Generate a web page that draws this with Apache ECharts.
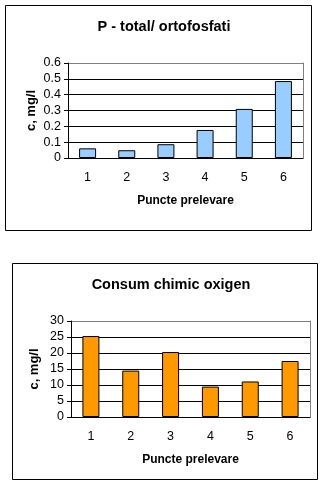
<!DOCTYPE html>
<html><head><meta charset="utf-8">
<script src="https://cdn.jsdelivr.net/npm/echarts@6/dist/echarts.min.js"></script>
<style>html,body{margin:0;padding:0;background:#fff}#c{width:325px;height:485px}</style>
</head><body><div id="c"></div>
<script>
const categories = ['1','2','3','4','5','6'];
const phosphorus = [0.061, 0.049, 0.087, 0.177, 0.31, 0.486];
const oxygenDemand = [25.3, 14.5, 20.3, 9.5, 11.1, 17.5];
const title1 = 'P - total/ ortofosfati';
const title2 = 'Consum chimic oxigen';
const xName = 'Puncte prelevare';
const yName = 'c, mg/l';

const font = 'Liberation Sans, Arial, sans-serif';
const grids = [
  {left: 68, top: 63, width: 235, height: 95},
  {left: 71, top: 321, width: 239, height: 96}
];
function xAxis(i){
  return {gridIndex: i, type: 'category', data: categories,
    axisLine: {lineStyle: {color: '#000', width: 1}},
    axisTick: {length: 4, lineStyle: {color: '#000'}},
    axisLabel: {color: '#000', fontFamily: font, fontSize: 12.5, margin: 13},
    name: xName, nameLocation: 'middle', nameGap: 37, nameMoveOverlap: false,
    nameTextStyle: {color: '#000', fontFamily: font, fontSize: 12, fontWeight: 'bold'}};
}
function yAxis(i, max, interval, fmt){
  return {gridIndex: i, type: 'value', min: 0, max: max, interval: interval,
    axisLine: {show: true, lineStyle: {color: '#000'}},
    axisTick: {show: true, length: 4, lineStyle: {color: '#000'}},
    axisLabel: {color: '#000', fontFamily: font, fontSize: 12.5, margin: 7, formatter: fmt},
    splitLine: {show: true, lineStyle: {color: ['#000','#000','#000','#000','#000','#000','#808080'], width: 1}},
    name: yName, nameLocation: 'middle', nameGap: 30, nameRotate: 90, nameMoveOverlap: false,
    nameTextStyle: {color: '#000', fontFamily: font, fontSize: 13, fontWeight: 'bold'}};
}
function rightAxis(i){
  return {gridIndex: i, type: 'value', position: 'right', min: 0, max: 1,
    axisLine: {show: true, lineStyle: {color: '#808080'}},
    axisTick: {show: false}, axisLabel: {show: false}, splitLine: {show: false}};
}
const chart = echarts.init(document.getElementById('c'), null, {renderer: 'canvas'});
chart.setOption({
  animation: false,
  backgroundColor: '#fff',
  title: [
    {text: title1, left: 159, top: 14, textAlign: 'center',
      textStyle: {fontFamily: font, fontSize: 14.5, fontWeight: 'bold', color: '#000'}},
    {text: title2, left: 166, top: 272, textAlign: 'center',
      textStyle: {fontFamily: font, fontSize: 14.5, fontWeight: 'bold', color: '#000'}}
  ],
  graphic: [
    {type: 'rect', shape: {x: 5.5, y: 5.5, width: 306, height: 225}, style: {fill: 'none', stroke: '#000', lineWidth: 1}, z: -1},
    {type: 'rect', shape: {x: 12.5, y: 263.5, width: 305, height: 216}, style: {fill: 'none', stroke: '#000', lineWidth: 1}, z: -1}
  ],
  grid: grids,
  xAxis: [xAxis(0), xAxis(1)],
  yAxis: [
    yAxis(0, 0.6, 0.1, v => String(Math.round(v*10)/10)),
    yAxis(1, 30, 5, v => String(v)),
    rightAxis(0), rightAxis(1)
  ],
  series: [
    {type: 'bar', xAxisIndex: 0, yAxisIndex: 0, data: phosphorus, barWidth: 17,
      itemStyle: {color: '#99CCFF', borderColor: '#000', borderWidth: 1}},
    {type: 'bar', xAxisIndex: 1, yAxisIndex: 1, data: oxygenDemand, barWidth: 17,
      itemStyle: {color: '#FF9900', borderColor: '#000', borderWidth: 1}}
  ]
});
</script></body></html>
